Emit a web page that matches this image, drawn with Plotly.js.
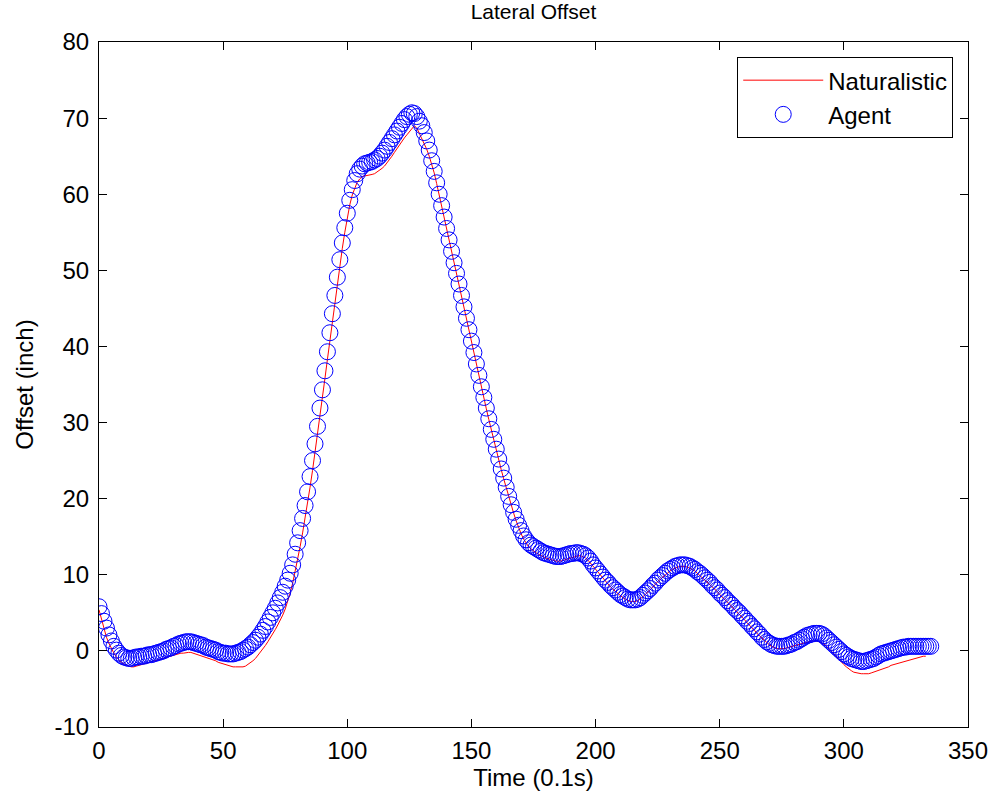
<!DOCTYPE html>
<html>
<head>
<meta charset="utf-8">
<script src="https://cdn.plot.ly/plotly-3.0.1.min.js"></script>
<style>html,body{margin:0;padding:0;background:#fff;}#chart{width:992px;height:803px;}</style>
</head>
<body>
<div id="chart"></div>
<script>
// Time step (0.1 s units) starts at 0, one sample per step
const timeStart = 0;

// Agent lateral offset (inch), one value per time step 0..335
const agentOffset = [
  5.8,4.9,3.9,3.0,2.1,1.3,0.6,0.1,-0.3,-0.6,
  -0.8,-0.9,-1.0,-1.0,-0.9,-0.8,-0.8,-0.7,-0.7,-0.6,
  -0.5,-0.5,-0.4,-0.3,-0.2,-0.1,0.0,0.2,0.3,0.4,
  0.6,0.7,0.9,1.0,1.1,1.2,1.2,1.2,1.1,1.0,
  0.9,0.8,0.7,0.5,0.4,0.3,0.2,0.1,-0.1,-0.2,
  -0.3,-0.3,-0.4,-0.4,-0.4,-0.3,-0.2,-0.1,0.1,0.3,
  0.5,0.8,1.1,1.4,1.8,2.2,2.7,3.2,3.8,4.4,
  5.0,5.6,6.3,7.0,7.7,8.5,9.3,10.2,11.3,12.7,
  14.2,15.8,17.4,19.1,20.9,22.9,25.0,27.2,29.5,31.9,
  34.3,36.8,39.3,41.8,44.3,46.7,49.1,51.4,53.6,55.6,
  57.5,59.2,60.6,61.8,62.7,63.3,63.7,64.0,64.1,64.2,
  64.3,64.5,64.7,65.0,65.4,65.8,66.3,66.8,67.3,67.8,
  68.3,68.8,69.3,69.8,70.2,70.5,70.7,70.6,70.2,69.6,
  69.0,68.1,67.0,65.8,64.4,63.0,61.5,60.0,58.5,57.0,
  55.5,54.0,52.5,51.0,49.6,48.2,46.7,45.2,43.7,42.2,
  40.7,39.2,37.7,36.2,34.7,33.3,31.9,30.5,29.1,27.8,
  26.5,25.2,23.9,22.7,21.5,20.3,19.2,18.2,17.3,16.5,
  15.8,15.1,14.6,14.2,13.9,13.7,13.5,13.3,13.1,12.9,
  12.8,12.7,12.6,12.5,12.4,12.4,12.4,12.5,12.6,12.7,
  12.8,12.8,12.9,12.9,12.8,12.7,12.5,12.2,11.8,11.3,
  10.9,10.5,10.1,9.7,9.3,9.0,8.6,8.3,8.0,7.7,
  7.4,7.2,7.0,6.8,6.7,6.7,6.7,6.8,7.0,7.3,
  7.6,7.9,8.2,8.6,8.9,9.3,9.6,9.9,10.2,10.5,
  10.7,10.9,11.1,11.2,11.3,11.3,11.3,11.2,11.1,10.9,
  10.7,10.4,10.2,9.9,9.6,9.3,9.0,8.6,8.3,8.0,
  7.6,7.3,7.0,6.6,6.3,6.0,5.6,5.3,5.0,4.6,
  4.3,3.9,3.6,3.2,2.9,2.5,2.2,1.8,1.5,1.2,
  1.0,0.8,0.7,0.6,0.6,0.6,0.6,0.7,0.8,0.9,
  1.1,1.2,1.4,1.6,1.8,2.0,2.1,2.2,2.3,2.3,
  2.3,2.2,2.0,1.7,1.4,1.1,0.8,0.5,0.2,-0.1,
  -0.4,-0.6,-0.8,-1.0,-1.1,-1.2,-1.3,-1.4,-1.4,-1.3,
  -1.2,-1.1,-1.0,-0.8,-0.6,-0.4,-0.3,-0.2,-0.1,0.0,
  0.1,0.2,0.3,0.4,0.5,0.5,0.6,0.6,0.6,0.6,
  0.6,0.6,0.6,0.6,0.6,0.6
];

// Naturalistic lateral offset (inch), one value per time step 0..333
const naturalisticOffset = [
  5.4,4.1,2.8,1.8,1.0,0.3,-0.3,-0.8,-1.2,-1.5,
  -1.7,-1.9,-2.0,-2.1,-2.1,-2.0,-1.9,-1.8,-1.7,-1.6,
  -1.6,-1.5,-1.4,-1.3,-1.2,-1.1,-1.0,-0.9,-0.8,-0.7,
  -0.6,-0.5,-0.4,-0.3,-0.3,-0.2,-0.2,-0.2,-0.3,-0.4,
  -0.5,-0.6,-0.7,-0.8,-0.9,-1.0,-1.2,-1.3,-1.5,-1.6,
  -1.8,-1.9,-2.0,-2.1,-2.1,-2.1,-2.1,-2.1,-2.1,-2.0,
  -1.8,-1.6,-1.3,-1.0,-0.6,-0.2,0.2,0.7,1.2,1.7,
  2.3,2.8,3.4,4.0,4.7,5.5,6.5,7.6,8.9,10.4,
  12.0,13.7,15.5,17.4,19.4,21.5,23.7,26.0,28.4,30.8,
  33.3,35.8,38.3,40.8,43.3,45.8,48.2,50.6,52.9,55.0,
  57.0,58.6,59.9,60.9,61.6,62.0,62.3,62.4,62.5,62.5,
  62.6,62.7,62.9,63.1,63.4,63.7,64.1,64.5,65.0,65.5,
  66.0,66.5,67.0,67.4,67.8,68.2,68.6,69.0,68.7,68.0,
  67.3,66.7,65.9,65.0,64.0,62.8,61.4,59.9,58.4,56.9,
  55.4,53.9,52.4,50.9,49.5,48.1,46.6,45.1,43.6,42.1,
  40.6,39.1,37.6,36.1,34.6,33.2,31.8,30.4,29.0,27.7,
  26.4,25.1,23.8,22.6,21.4,20.2,19.1,18.1,17.1,16.2,
  15.4,14.7,14.1,13.7,13.4,13.1,12.9,12.7,12.5,12.3,
  12.2,12.1,12.0,11.9,11.8,11.8,11.8,11.9,12.0,12.2,
  12.3,12.4,12.5,12.5,12.5,12.4,12.2,11.9,11.5,11.1,
  10.7,10.3,9.9,9.5,9.1,8.8,8.4,8.1,7.8,7.5,
  7.2,7.0,6.8,6.6,6.5,6.5,6.5,6.6,6.8,7.1,
  7.4,7.7,8.0,8.4,8.7,9.1,9.4,9.7,10.0,10.3,
  10.5,10.7,10.9,11.0,11.1,11.1,11.1,11.0,10.9,10.7,
  10.5,10.2,10.0,9.7,9.4,9.1,8.8,8.4,8.1,7.8,
  7.4,7.1,6.8,6.4,6.1,5.8,5.4,5.1,4.8,4.4,
  4.1,3.7,3.4,3.0,2.7,2.3,2.0,1.6,1.3,1.0,
  0.8,0.6,0.4,0.3,0.3,0.3,0.3,0.4,0.5,0.6,
  0.7,0.8,0.9,1.0,1.1,1.2,1.3,1.3,1.3,1.3,
  1.2,1.1,0.9,0.6,0.3,0.0,-0.3,-0.7,-1.1,-1.5,
  -1.8,-2.1,-2.4,-2.6,-2.8,-2.9,-3.0,-3.0,-3.0,-3.0,
  -3.0,-2.9,-2.8,-2.7,-2.6,-2.5,-2.3,-2.2,-2.1,-1.9,
  -1.8,-1.7,-1.6,-1.5,-1.4,-1.3,-1.2,-1.1,-1.0,-0.9,
  -0.8,-0.8,-0.7,-0.7
];

const xTickValues = [0, 50, 100, 150, 200, 250, 300, 350];
const xTickLabels = ['0', '50', '100', '150', '200', '250', '300', '350'];
const yTickValues = [-10, 0, 10, 20, 30, 40, 50, 60, 70, 80];
const yTickLabels = ['-10', '0', '10', '20', '30', '40', '50', '60', '70', '80'];

const timeOf = arr => arr.map((_, i) => timeStart + i);

const FONT = 'Liberation Sans, Arial, sans-serif';

const traces = [
  {
    x: timeOf(naturalisticOffset),
    y: naturalisticOffset,
    type: 'scatter',
    mode: 'lines',
    name: 'Naturalistic',
    line: {color: '#ff0000', width: 1}
  },
  {
    x: timeOf(agentOffset),
    y: agentOffset,
    type: 'scatter',
    mode: 'markers',
    name: 'Agent',
    marker: {symbol: 'circle-open', size: 16, color: '#0000ff', line: {color: '#0000ff', width: 1}}
  }
];

const axisCommon = {
  showline: true,
  linecolor: '#000',
  linewidth: 1,
  mirror: 'ticks',
  ticks: 'inside',
  ticklen: 8,
  tickcolor: '#000',
  showgrid: false,
  zeroline: false,
  tickmode: 'array',
  tickfont: {family: FONT, size: 24, color: '#000'}
};

const layout = {
  width: 992,
  height: 803,
  paper_bgcolor: '#fff',
  plot_bgcolor: '#fff',
  margin: {l: 99, r: 24, t: 42, b: 76},
  font: {family: FONT, color: '#000'},
  title: {
    text: 'Lateral Offset',
    font: {family: FONT, size: 21, color: '#000'},
    x: 0.5, xref: 'paper', xanchor: 'center',
    y: 0.985, yref: 'container', yanchor: 'middle'
  },
  xaxis: Object.assign({}, axisCommon, {
    range: [0, 350],
    tickvals: xTickValues,
    ticktext: xTickLabels,
    ticklabelstandoff: 2,
    title: {text: 'Time (0.1s)', font: {family: FONT, size: 24, color: '#000'}, standoff: 6}
  }),
  yaxis: Object.assign({}, axisCommon, {
    range: [-10, 80],
    tickvals: yTickValues,
    ticktext: yTickLabels,
    ticklabelstandoff: 4,
    title: {text: 'Offset (inch)', font: {family: FONT, size: 24, color: '#000'}, standoff: 14}
  }),
  showlegend: true,
  legend: {
    x: 0.983, xanchor: 'right',
    y: 0.978, yanchor: 'top',
    bgcolor: '#fff',
    bordercolor: '#000',
    borderwidth: 1,
    itemwidth: 80,
    font: {family: FONT, size: 24, color: '#000'},
    tracegroupgap: 0
  }
};

Plotly.newPlot('chart', traces, layout, {displayModeBar: false, staticPlot: true});
</script>
</body>
</html>
